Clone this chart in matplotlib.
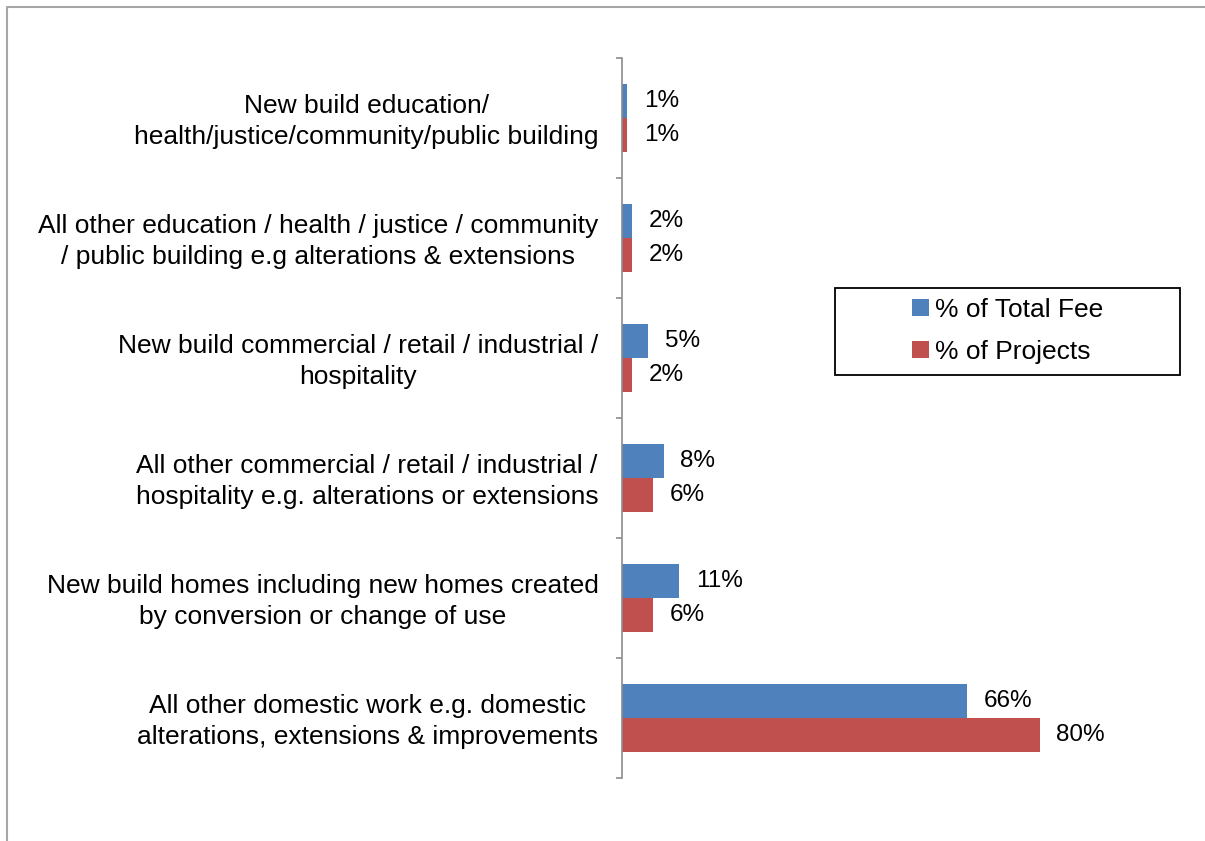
import matplotlib.pyplot as plt
import numpy as np
from matplotlib.lines import Line2D
from matplotlib.patches import Rectangle

plt.rcParams['font.family'] = ['Liberation Sans', 'DejaVu Sans']

categories = [
    "New build education/\nhealth/justice/community/public building",
    "All other education / health / justice / community\n/ public building e.g alterations & extensions",
    "New build commercial / retail / industrial /\nhospitality",
    "All other commercial / retail / industrial /\nhospitality e.g. alterations or extensions",
    "New build homes including new homes created\nby conversion or change of use",
    "All other domestic work e.g. domestic\nalterations, extensions & improvements",
]
total_fee = [1, 2, 5, 8, 11, 66]
projects = [1, 2, 2, 6, 6, 80]

blue = '#4F81BD'
red = '#C0504D'
grey = '#8C8C8C'
fs = 19

W, H = 1205, 841
fig = plt.figure(figsize=(W / 100, H / 100), dpi=100)
ax = fig.add_axes([622 / W, (H - 778) / H, 470 / W, 720 / H])

y = np.arange(len(categories))
bh = 0.285
b1 = ax.barh(y - bh / 2, total_fee, height=bh, color=blue, label='% of Total Fee')
b2 = ax.barh(y + bh / 2, projects, height=bh, color=red, label='% of Projects')

for bars in (b1, b2):
    for rect in bars:
        v = rect.get_width()
        ax.annotate(f"{v:g}%", (v, rect.get_y() + rect.get_height() / 2),
                    xytext=(12, 0), textcoords='offset points',
                    ha='left', va='center', fontsize=17.5)

ax.set_xlim(0, 90)
ax.set_ylim(len(categories) - 0.5, -0.5)

# boundary ticks between categories, labels centred on each category
ax.set_yticks(np.arange(-0.5, len(categories), 1.0))
ax.set_yticklabels([])
ax.set_yticks(y - 0.02, minor=True)
ax.set_yticklabels(categories, minor=True, fontsize=fs, multialignment='center')
ax.tick_params(axis='y', which='major', direction='out', length=4.5, width=1.2, color=grey)
ax.tick_params(axis='y', which='minor', length=0, pad=17)
for lab in ax.get_yticklabels(minor=True):
    lab.set_linespacing(1.38)

ax.set_xticks([])
for s in ('top', 'right', 'bottom'):
    ax.spines[s].set_visible(False)
ax.spines['left'].set_color(grey)
ax.spines['left'].set_linewidth(1.2)

# legend box
fig.patches.append(Rectangle((835 / W, 1 - 375 / H), 345 / W, 87 / H,
                             transform=fig.transFigure, fill=False,
                             edgecolor='black', linewidth=1.3))
fig.legend(handles=[b1, b2], loc='center',
           bbox_to_anchor=(1008 / W, 1 - 331 / H), frameon=False,
           fontsize=fs, handlelength=0.62, handleheight=0.62,
           handletextpad=0.25, labelspacing=0.7)

# outer chart frame
fig.add_artist(Line2D([7 / W, 7 / W, 1], [0, 1 - 7 / H, 1 - 7 / H],
                      transform=fig.transFigure, color='#A6A6A6', linewidth=1.5))

fig.savefig('out.png', dpi=100)
